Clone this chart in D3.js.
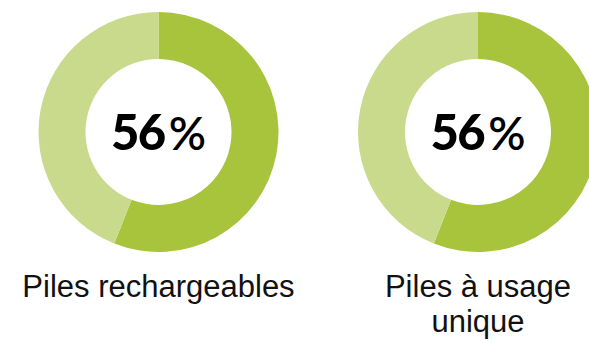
<!DOCTYPE html>
<html>
<head>
<meta charset="utf-8">
<script src="https://cdn.jsdelivr.net/npm/d3@7"></script>
<style>
  html, body { margin: 0; padding: 0; background: #fff; }
  svg { display: block; }
</style>
</head>
<body>
<svg id="chart" width="589" height="343"></svg>
<script>
// Share of batteries (percent) for each battery type
const categories = ["Piles rechargeables", "Piles à usage unique"];
const labelLines = [["Piles rechargeables"], ["Piles à usage", "unique"]];
const shares = [56, 56];
const total = 100;

const colors = { share: "#a8c33c", rest: "#c9da8c" };

const width = 589, height = 343;
const outerR = 120, innerR = 73;
const cy = 132;

const svg = d3.select("#chart");

const x = d3.scalePoint()
  .domain(categories)
  .range([158.5, 478])
  .padding(0);

const pie = d3.pie().sort(null).value(d => d.v).startAngle(0).endAngle(2 * Math.PI);
const arc = d3.arc().innerRadius(innerR).outerRadius(outerR);

categories.forEach((cat, i) => {
  const g = svg.append("g").attr("transform", `translate(${x(cat)},${cy})`);
  const parts = [
    { key: "share", v: shares[i] },
    { key: "rest", v: total - shares[i] }
  ];
  g.selectAll("path")
    .data(pie(parts))
    .join("path")
    .attr("d", arc)
    .attr("fill", d => colors[d.data.key]);

  // centre value: heavy digits, lighter percent sign
  const t = g.append("text")
    .attr("text-anchor", "middle")
    .attr("y", 18)
    .attr("font-family", "Lato, 'DejaVu Sans', sans-serif")
    .attr("fill", "#000");
  t.append("tspan")
    .attr("font-weight", 900)
    .attr("font-size", 49)
    .attr("letter-spacing", -1.5)
    .text(shares[i]);
  t.append("tspan")
    .attr("font-weight", 600)
    .attr("font-size", 46)
    .attr("dx", 4)
    .text("%");

  const lbl = svg.append("text")
    .attr("text-anchor", "middle")
    .attr("font-family", "'Liberation Sans', Arial, sans-serif")
    .attr("font-size", 31)
    .attr("fill", "#111");
  labelLines[i].forEach((line, j) => {
    lbl.append("tspan")
      .attr("x", x(cat))
      .attr("y", 297 + j * 35)
      .text(line);
  });
});
</script>
</body>
</html>
